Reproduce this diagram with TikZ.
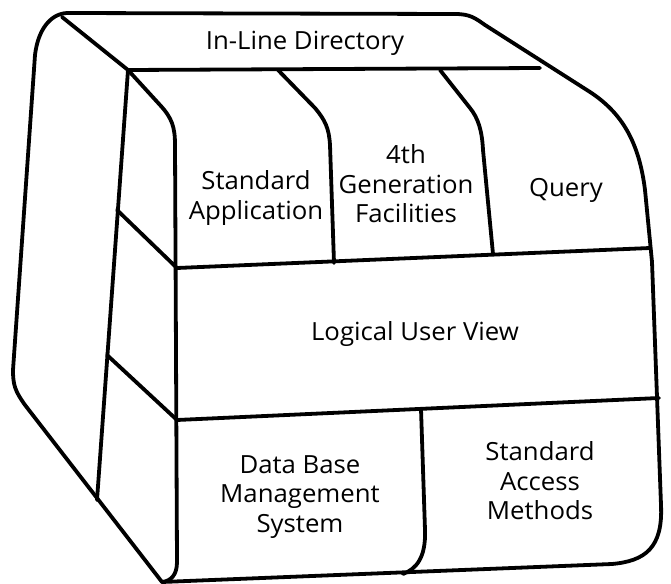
\documentclass[tikz,border=0pt]{standalone}
\usepackage{fontspec}
\setmainfont[FakeStretch=1.03]{Open Sans}
\usetikzlibrary{positioning}

\tikzset{
    edge/.style={line width=3.8pt, line join=round, line cap=round},
    label/.style={align=center, font=\fontsize{25}{29.5}\selectfont}
}

\begin{document}
\begin{tikzpicture}[x=1pt, y=-1pt]
\useasboundingbox (0,0) rectangle (671,583);

% outer outline
\draw [edge] (67,13) -- (455,14) .. controls (470,14) and (475,18) .. (485,25)
    -- (590,92) .. controls (622,113) and (639,142) .. (645,190)
    -- (652,262) -- (661,505) .. controls (663,548) and (645,561) .. (612,564)
    -- (162,582) -- (25,405) .. controls (15,391) and (13,385) .. (13,370)
    -- (35,55) .. controls (38,30) and (50,14) .. (67,13) -- cycle;

% in-line directory band
\draw [edge] (62,17) -- (128,70) -- (540,68);

% side panel
\draw [edge] (128,70) -- (97,500);
\draw [edge] (117,210) -- (177,268);
\draw [edge] (107,355) -- (177,420);

% front face left edge
\draw [edge] (128,70) -- (160,105) .. controls (172,118) and (175,127) .. (175,145)
    -- (177,562) .. controls (177,575) and (171,581) .. (162,582);

% front horizontal lines
\draw [edge] (177,268) -- (650,248);
\draw [edge] (177,420) -- (659,398);

% dividers of the top row
\draw [edge] (278,70) -- (315,108) .. controls (325,120) and (329,128) .. (330,145) -- (334,263);
\draw [edge] (440,70) -- (470,108) .. controls (478,118) and (482,130) .. (483,150) -- (493,254);

% divider of the bottom row
\draw [edge] (421,409) -- (425,530) .. controls (426,558) and (416,569) .. (403,574);

% labels
\node [label] (dir) at (305,43) {In-Line Directory};
\node [label] (stdapp) at (256,198) {Standard\\Application};
\node [label] (fourth) at (406,184) {4th\\Generation\\Facilities};
\node [label] (query) at (566,190) {Query};
\node [label] (luv) at (415,334) {Logical User View};
\node [label] (dbms) at (300,497) {Data Base\\Management\\System};
\node [label] (sam) at (540,481) {Standard\\Access\\Methods};

\end{tikzpicture}
\end{document}
